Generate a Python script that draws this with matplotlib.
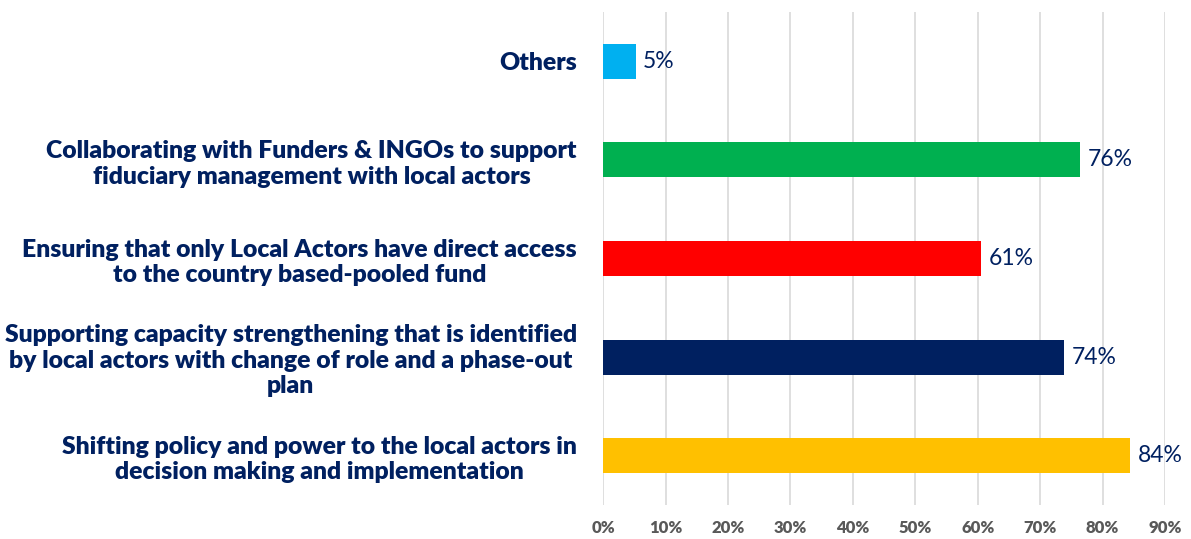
import matplotlib
matplotlib.use("Agg")
import matplotlib.pyplot as plt

# ---------------------------------------------------------------------------
# Data (top to bottom as shown)
# ---------------------------------------------------------------------------
categories = [
    "Others",
    "Collaborating with Funders & INGOs to support\nfiduciary management with local actors",
    "Ensuring that only Local Actors have direct access\nto the country based-pooled fund",
    "Supporting capacity strengthening that is identified\nby local actors with change of role and a phase-out\nplan",
    "Shifting policy and power to the local actors in\ndecision making and implementation",
]
values = [5.2, 76.4, 60.5, 73.8, 84.4]
value_labels = ["5%", "76%", "61%", "74%", "84%"]
colors = ["#00B0F0", "#00B050", "#FF0000", "#002060", "#FFC000"]
xticks = [0, 10, 20, 30, 40, 50, 60, 70, 80, 90]

NAVY = "#002060"
FONT = ["Lato", "DejaVu Sans"]

fig = plt.figure(figsize=(11.91, 5.39), dpi=100)
ax = fig.add_axes([0.5065, 0.0631, 0.4716, 0.9146])

ypos = list(range(len(categories)))
ax.barh(ypos, values, height=0.355, color=colors, zorder=3)

for y, v, lab in zip(ypos, values, value_labels):
    ax.text(v + 1.2, y, lab, va="center", ha="left", color=NAVY,
            fontsize=16.5, family=FONT, zorder=4)

ax.set_xlim(0, 90)
ax.set_ylim(-0.5, len(categories) - 0.5)
ax.invert_yaxis()

ax.set_xticks(xticks)
ax.set_xticklabels([f"{t}%" for t in xticks], fontsize=12, fontweight="heavy",
                   color="#595959", family=FONT)
ax.set_yticks(ypos)
ax.set_yticklabels(categories, fontsize=17.8, fontweight="heavy", color=NAVY,
                   family=FONT, multialignment="center", linespacing=1.2)

ax.tick_params(axis="both", length=0)
ax.tick_params(axis="y", pad=19)
ax.tick_params(axis="x", pad=11)

ax.grid(axis="x", color="#D9D9D9", linewidth=1.2, zorder=0)
ax.grid(axis="y", visible=False)
for s in ax.spines.values():
    s.set_visible(False)

fig.savefig("out.png", dpi=100)
